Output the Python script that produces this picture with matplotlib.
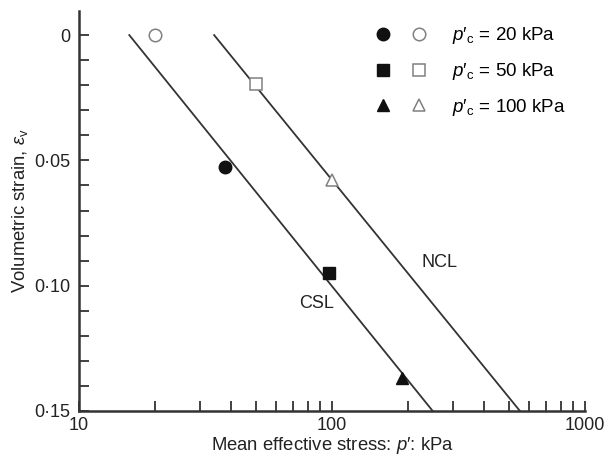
import numpy as np
import matplotlib.pyplot as plt
from matplotlib.legend_handler import HandlerTuple
from matplotlib.ticker import FixedLocator, FixedFormatter, NullFormatter

plt.rcParams['font.family'] = ['Liberation Sans', 'DejaVu Sans']
plt.rcParams['mathtext.fontset'] = 'custom'
plt.rcParams['mathtext.rm'] = 'Liberation Sans'
plt.rcParams['mathtext.it'] = 'Liberation Sans:italic'

# Data
pc_labels = ['20', '50', '100']
markers = ['o', 's', '^']

# open symbols: normally consolidated states
p_ncl_pts = [20, 50, 100]
e_ncl_pts = [0.0, 0.0196, 0.058]
# filled symbols: critical states
p_csl_pts = [37.8, 97.3, 189]
e_csl_pts = [0.0528, 0.0948, 0.1368]

# line end points (p', strain)
csl_p = [15.8, 250]
csl_e = [0.0, 0.15]
ncl_p = [34.2, 553]
ncl_e = [0.0, 0.15]

y_major = [0.0, 0.05, 0.10, 0.15]
y_labels = ['0', '0·05', '0·10', '0·15']

fig = plt.figure(figsize=(6.05, 4.59), dpi=100)
ax = fig.add_axes([0.1306, 0.1046, 0.8364, 0.8714])

line_col = '#333333'
txt_col = '#222222'
ax.plot(csl_p, csl_e, color=line_col, lw=1.3)
ax.plot(ncl_p, ncl_e, color=line_col, lw=1.3)

handles = []
for i in range(3):
    ms = 9 if markers[i] != '^' else 8
    hf, = ax.plot(p_csl_pts[i], e_csl_pts[i], linestyle='none', marker=markers[i],
                  ms=ms, mfc='#111111', mec='#111111')
    ho, = ax.plot(p_ncl_pts[i], e_ncl_pts[i], linestyle='none', marker=markers[i],
                  ms=ms, mfc='white', mec='#808080', mew=1.1)
    handles.append((hf, ho))

labels = ["$p$′$_{\\mathrm{c}}$ = " + v + " kPa" for v in pc_labels]
ax.legend(handles, labels, handler_map={tuple: HandlerTuple(ndivide=None, pad=1.2)},
          loc='upper left', bbox_to_anchor=(0.555, 1.006), frameon=False,
          fontsize=13.5, handlelength=2.6, handletextpad=1.4, labelspacing=0.78)

ax.text(267, 0.0908, 'NCL', fontsize=13, ha='center', va='center', color=txt_col)
ax.text(86.5, 0.1072, 'CSL', fontsize=13, ha='center', va='center', color=txt_col)

ax.set_xscale('log')
ax.set_xlim(10, 1000)
ax.set_ylim(0.15, -0.0096)

ax.yaxis.set_major_locator(FixedLocator(y_major))
ax.yaxis.set_major_formatter(FixedFormatter(y_labels))
ax.yaxis.set_minor_locator(FixedLocator(np.arange(-0.01, 0.1501, 0.01)))
ax.xaxis.set_major_formatter(FixedFormatter(['10', '100', '1000']))
ax.xaxis.set_major_locator(FixedLocator([10, 100, 1000]))
ax.xaxis.set_minor_formatter(NullFormatter())

ax.tick_params(which='both', direction='in', length=7, width=1.3, color='#333333',
               labelsize=13, labelcolor=txt_col)
ax.tick_params(axis='y', which='both', right=False, pad=6)
ax.tick_params(axis='x', which='both', top=False, pad=4)

for s in ['top', 'right']:
    ax.spines[s].set_visible(False)
for s in ['left', 'bottom']:
    ax.spines[s].set_linewidth(1.8)
    ax.spines[s].set_color('#333333')

ax.set_xlabel("Mean effective stress: $p$′: kPa", fontsize=13.3, color=txt_col, labelpad=1)
ax.set_ylabel(r"Volumetric strain, $\varepsilon_{\mathrm{v}}$", fontsize=13.3,
              color=txt_col, labelpad=3)

fig.savefig('out.png', dpi=100)
